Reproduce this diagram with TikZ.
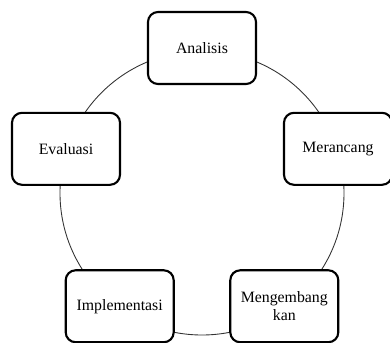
\documentclass[tikz,border=0pt]{standalone}
\usepackage{fontspec}
\setmainfont{Liberation Serif}
\usepackage{tikz}
\usetikzlibrary{positioning}

\begin{document}
\begin{tikzpicture}[
    stage/.style={draw, fill=white, line width=1.2pt, rounded corners=0.2cm,
        minimum width=2.16cm, minimum height=1.44cm, align=center,
        font=\fontsize{9}{10}\selectfont},
    cycle/.style={draw, line width=0.5pt, black!80}
]
\useasboundingbox (-4.04,-2.98) rectangle (3.76,3.86);

% Siklus
\coordinate (pusat) at (0,0);
\draw[cycle] (pusat) circle (2.84);

% Tahapan
\node[stage] (analisis) at (90:2.9) {Analisis};
\node[stage] (merancang) at (18:2.86) {Merancang};
\node[stage] (mengembangkan) at (306:2.8) {Mengembang\\kan};
\node[stage] (implementasi) at (234:2.8) {Implementasi};
\node[stage] (evaluasi) at (162:2.86) {Evaluasi};

\end{tikzpicture}
\end{document}
